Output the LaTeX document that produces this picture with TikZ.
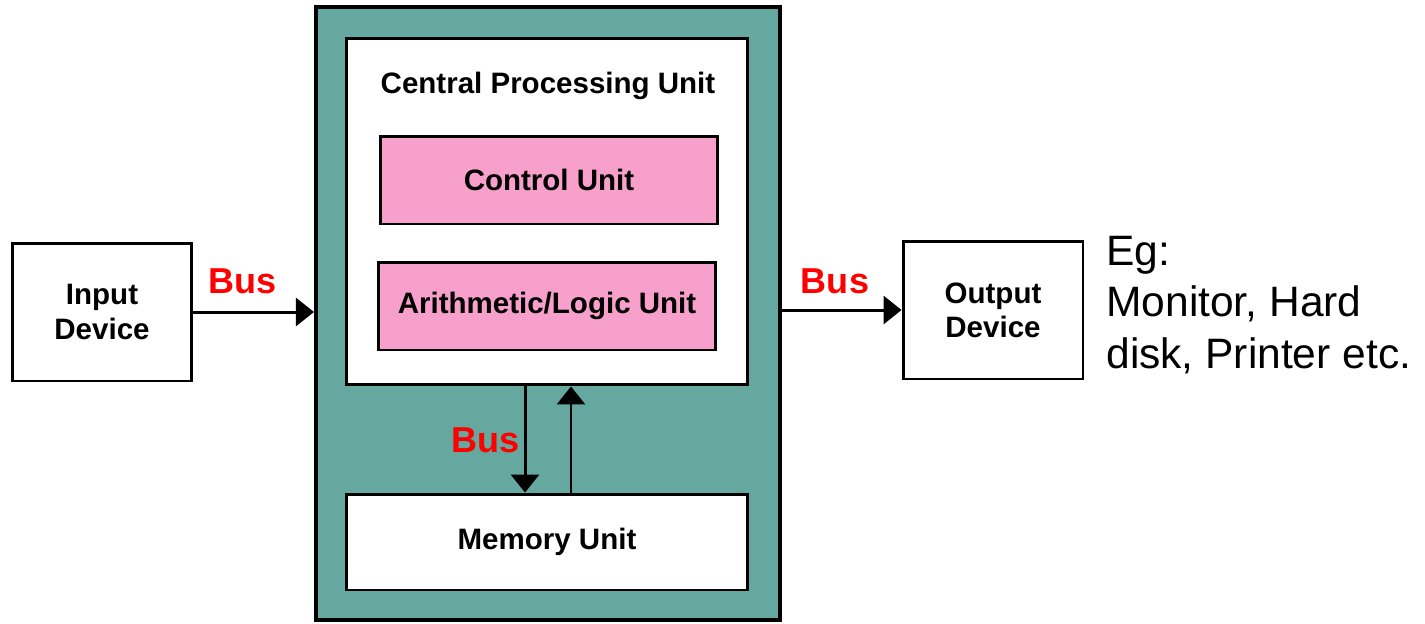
\documentclass[tikz,border=0pt]{standalone}
\usepackage{fontspec}
\setmainfont{Liberation Sans}
\usetikzlibrary{arrows.meta}
\definecolor{systeal}{RGB}{100,168,160}
\definecolor{unitpink}{RGB}{247,160,203}
\begin{document}
\begin{tikzpicture}[x=0.02cm,y=-0.02cm,
  unitbox/.style={draw=black,line width=1.7pt,fill=white,inner sep=0pt,
    font=\fontsize{16.8}{19.5}\selectfont\bfseries,align=center},
  pinkbox/.style={unitbox,fill=unitpink},
  buslabel/.style={text=red,font=\fontsize{20.5}{24}\selectfont\bfseries,inner sep=0pt},
  arr/.style={line width=1.7pt,-{Triangle[length=0.36cm,width=0.56cm]}}]
\useasboundingbox (0,0) rectangle (1425,623);

% system enclosure
\node (sys) [draw=black,line width=2.4pt,fill=systeal,minimum width=9.28cm,
  minimum height=12.26cm,inner sep=0pt] at (548,313.5) {};

% CPU and its units
\node (cpu) [unitbox,minimum width=8.04cm,minimum height=6.94cm] at (547,211.5) {};
\node (cputitle) [font=\fontsize{16.8}{19.5}\selectfont\bfseries,inner sep=0pt] at (548,86) {Central Processing Unit};
\node (cu) [pinkbox,minimum width=6.76cm,minimum height=1.76cm] at (549,180) {Control Unit};
\node (alu) [pinkbox,minimum width=6.76cm,minimum height=1.76cm] at (547,306) {Arithmetic/Logic Unit};

% memory
\node (mem) [unitbox,minimum width=8.04cm,minimum height=1.92cm] at (547,542) {Memory Unit};

% peripherals
\node (in) [unitbox,minimum width=3.6cm,minimum height=2.76cm] at (102,312) {Input\\Device};
\node (out) [unitbox,minimum width=3.6cm,minimum height=2.76cm] at (993,310) {Output\\Device};

% connections
\draw[arr] (in.east) -- (sys.west |- in.east);
\draw[arr] (sys.east |- out.west) -- (out.west);
\draw[arr] ([xshift=-0.44cm]cpu.south) -- ([xshift=-0.44cm]mem.north);
\draw[arr] ([xshift=0.48cm]mem.north) -- ([xshift=0.48cm]cpu.south);

\node (bus1) [buslabel] at (243,281) {Bus};
\node (bus2) [buslabel] at (835,281) {Bus};
\node (bus3) [buslabel] at (486,440) {Bus};

% examples
\node (eg) [anchor=north west,align=left,inner sep=0pt,
  font=\fontsize{24.2}{29.2}\selectfont] at (1106,236) {Eg:\\Monitor, Hard\\disk, Printer etc.};
\end{tikzpicture}
\end{document}
